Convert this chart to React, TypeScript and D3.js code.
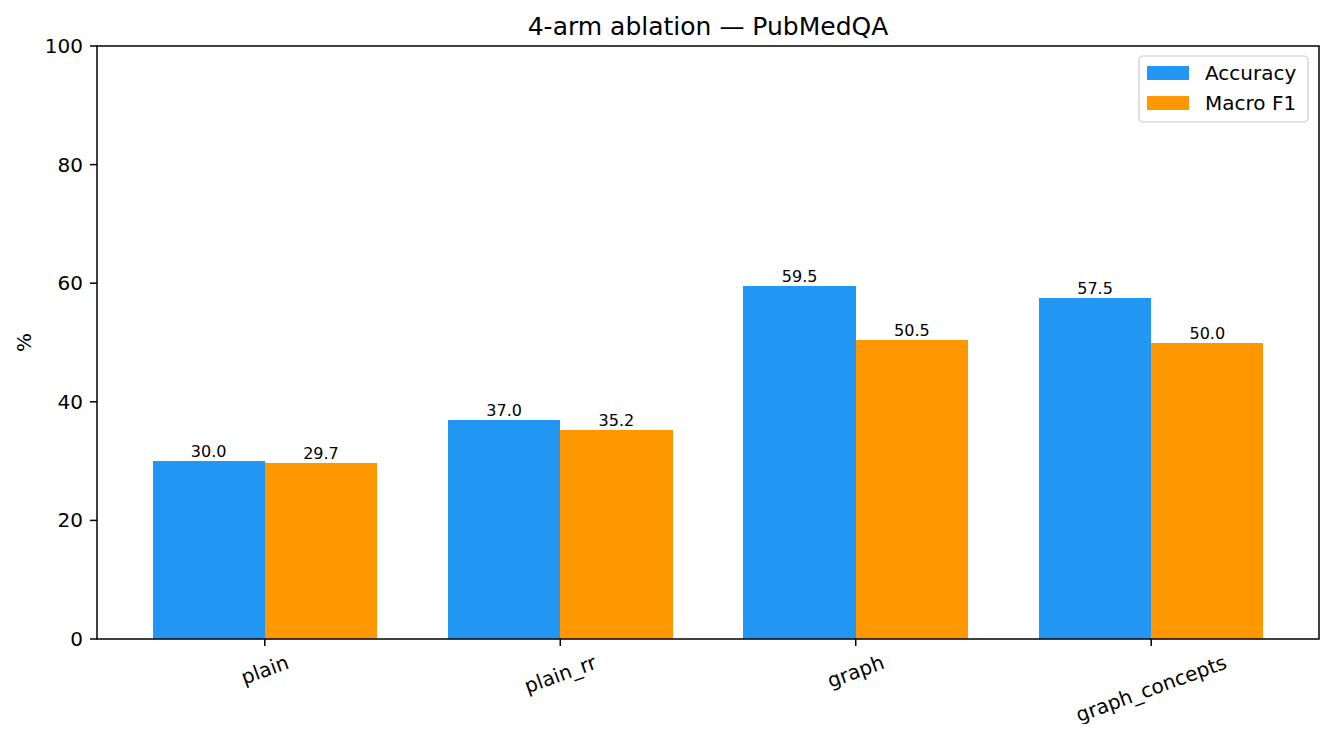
import { useEffect, useRef } from 'react';
import * as d3 from 'd3';

const categories = ['plain', 'plain_rr', 'graph', 'graph_concepts'];
const accuracy = [30.0, 37.0, 59.5, 57.5];
const macroF1 = [29.7, 35.2, 50.5, 50.0];
const seriesNames = ['Accuracy', 'Macro F1'];
const colors = ['#2196F3', '#FF9800'];
const yTicks = [0, 20, 40, 60, 80, 100];

const W = 1334;
const H = 732;
const margin = { top: 46, right: 15, bottom: 93, left: 97 };
const FONT = 'DejaVu Sans, sans-serif';

const App = () => {
  const svgRef = useRef<SVGSVGElement>(null);

  useEffect(() => {
    if (!svgRef.current) return;
    const svg = d3.select(svgRef.current);
    svg.selectAll('*').remove();

    const innerW = W - margin.left - margin.right;
    const innerH = H - margin.top - margin.bottom;
    const barW = 0.38;

    const x = d3.scaleLinear().domain([-0.568, categories.length - 1 + 0.568]).range([0, innerW]);
    const y = d3.scaleLinear().domain([0, 100]).range([innerH, 0]);

    const g = svg.append('g').attr('transform', `translate(${margin.left},${margin.top})`);

    const series = [accuracy, macroF1];
    series.forEach((vals, si) => {
      const off = si === 0 ? -barW : 0;
      g.selectAll(`.bar-${si}`)
        .data(vals)
        .enter()
        .append('rect')
        .attr('x', (_, i) => x(i + off))
        .attr('y', d => y(d))
        .attr('width', x(barW) - x(0))
        .attr('height', d => innerH - y(d))
        .attr('shape-rendering', 'crispEdges')
        .attr('fill', colors[si]);

      g.selectAll(`.lbl-${si}`)
        .data(vals)
        .enter()
        .append('text')
        .attr('x', (_, i) => x(i + off + barW / 2))
        .attr('y', d => y(d) - 4)
        .attr('text-anchor', 'middle')
        .attr('font-family', FONT)
        .attr('font-size', 16)
        .attr('fill', '#000')
        .text(d => d.toFixed(1));
    });

    // frame
    g.append('rect')
      .attr('x', 0).attr('y', 0)
      .attr('width', innerW).attr('height', innerH)
      .attr('fill', 'none').attr('stroke', '#000').attr('stroke-width', 1.5);

    // y ticks
    yTicks.forEach(t => {
      g.append('line')
        .attr('x1', -7).attr('x2', 0)
        .attr('y1', y(t)).attr('y2', y(t))
        .attr('stroke', '#000').attr('stroke-width', 1.5);
      g.append('text')
        .attr('x', -14).attr('y', y(t))
        .attr('text-anchor', 'end')
        .attr('dominant-baseline', 'central')
        .attr('font-family', FONT)
        .attr('font-size', 20)
        .text(t);
    });

    // x ticks with rotated labels
    categories.forEach((c, i) => {
      g.append('line')
        .attr('x1', x(i)).attr('x2', x(i))
        .attr('y1', innerH).attr('y2', innerH + 7)
        .attr('stroke', '#000').attr('stroke-width', 1.5);
      const t = g.append('text')
        .attr('text-anchor', 'middle')
        .attr('dominant-baseline', 'central')
        .attr('font-family', FONT)
        .attr('font-size', 20)
        .text(c);
      const w = (t.node() as SVGTextElement).getComputedTextLength();
      const h = 20;
      const a = (20 * Math.PI) / 180;
      const boxH = w * Math.sin(a) + h * Math.cos(a);
      t.attr('transform', `translate(${x(i)},${innerH + 13 + boxH / 2}) rotate(-20)`);
    });

    // title
    svg.append('text')
      .attr('x', margin.left + innerW / 2)
      .attr('y', 26)
      .attr('text-anchor', 'middle')
      .attr('dominant-baseline', 'central')
      .attr('font-family', FONT)
      .attr('font-size', 25)
      .text('4-arm ablation — PubMedQA');

    // y label
    svg.append('text')
      .attr('transform', `translate(24,${margin.top + innerH / 2}) rotate(-90)`)
      .attr('text-anchor', 'middle')
      .attr('dominant-baseline', 'central')
      .attr('font-family', FONT)
      .attr('font-size', 20)
      .text('%');

    // legend
    const lg = svg.append('g').attr('transform', 'translate(1139,56)');
    lg.append('rect')
      .attr('x', 0).attr('y', 0).attr('width', 169).attr('height', 66)
      .attr('rx', 4).attr('fill', '#fff').attr('fill-opacity', 0.8)
      .attr('stroke', '#ccc').attr('stroke-width', 1.2);
    seriesNames.forEach((n, i) => {
      lg.append('rect')
        .attr('x', 8).attr('y', 10 + i * 30)
        .attr('width', 42).attr('height', 14)
        .attr('fill', colors[i]);
      lg.append('text')
        .attr('x', 66).attr('y', 17 + i * 30)
        .attr('dominant-baseline', 'central')
        .attr('font-family', FONT)
        .attr('font-size', 20)
        .text(n);
    });
  }, []);

  return <svg ref={svgRef} width={W} height={H} style={{ display: 'block', margin: '-8px' }} />;
};

export default App;
